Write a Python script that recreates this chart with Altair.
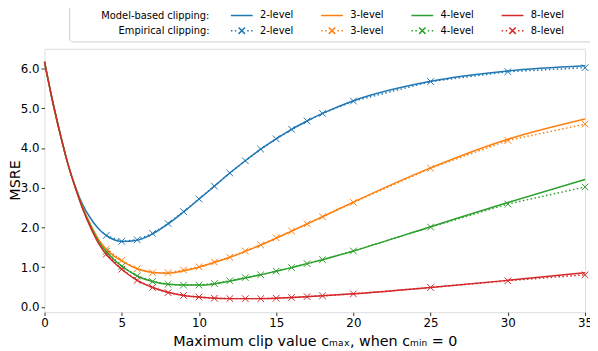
import altair as alt
import pandas as pd

FONT = "DejaVu Sans"

# ---- data ----
levels = ["2", "3", "4", "8"]
colors = ["#1f77b4", "#ff7f0e", "#2ca02c", "#d62728"]

model_x = [0, 0.5, 1, 1.5, 2, 2.5, 3, 3.5, 4, 4.5, 5, 6, 7, 8, 9, 10, 11, 12,
           13, 14, 15, 16, 17, 18, 20, 25, 30, 35]
model_2 = [6.17, 5.22, 4.38, 3.62, 3.02, 2.55, 2.22, 1.97, 1.80, 1.69, 1.65, 1.68,
           1.84, 2.09, 2.39, 2.71, 3.04, 3.37, 3.68, 3.97, 4.23, 4.47, 4.68, 4.87,
           5.19, 5.68, 5.94, 6.07]
model_3 = [6.17, 5.22, 4.38, 3.62, 3.00, 2.48, 2.06, 1.70, 1.45, 1.28, 1.16, 0.96,
           0.87, 0.85, 0.91, 1.00, 1.12, 1.25, 1.40, 1.56, 1.73, 1.91, 2.09, 2.27,
           2.64, 3.50, 4.22, 4.73]
model_4 = [6.17, 5.22, 4.38, 3.62, 3.00, 2.46, 2.02, 1.65, 1.39, 1.19, 1.03, 0.78,
           0.64, 0.57, 0.55, 0.55, 0.58, 0.65, 0.73, 0.81, 0.90, 0.99, 1.09, 1.19,
           1.41, 2.02, 2.63, 3.21]
model_8 = [6.17, 5.22, 4.38, 3.62, 3.00, 2.44, 1.98, 1.60, 1.32, 1.12, 0.95, 0.67,
           0.49, 0.37, 0.29, 0.25, 0.22, 0.21, 0.21, 0.21, 0.22, 0.24, 0.26, 0.28,
           0.33, 0.49, 0.67, 0.86]

emp_x = [4, 5, 6, 7, 8, 9, 10, 11, 12, 13, 14, 15, 16, 17, 18, 20, 25, 30, 35]
emp_2 = [1.80, 1.65, 1.69, 1.85, 2.10, 2.40, 2.72, 3.04, 3.37, 3.68, 3.97, 4.23,
         4.47, 4.68, 4.87, 5.18, 5.67, 5.92, 6.02]
emp_3 = [1.46, 1.17, 0.96, 0.86, 0.86, 0.93, 1.01, 1.13, 1.25, 1.41, 1.56, 1.74,
         1.91, 2.09, 2.27, 2.63, 3.49, 4.19, 4.60]
emp_4 = [1.40, 1.02, 0.78, 0.64, 0.57, 0.55, 0.55, 0.59, 0.66, 0.74, 0.81, 0.90,
         0.99, 1.09, 1.19, 1.41, 2.01, 2.59, 3.02]
emp_8 = [1.33, 0.95, 0.67, 0.49, 0.36, 0.29, 0.25, 0.22, 0.21, 0.21, 0.21, 0.22,
         0.24, 0.26, 0.28, 0.33, 0.49, 0.66, 0.81]

x_ticks = [0, 5, 10, 15, 20, 25, 30, 35]
y_ticks = [0, 1, 2, 3, 4, 5, 6]

# ---- tables ----
model_rows = []
for lv, ys in zip(levels, [model_2, model_3, model_4, model_8]):
    for x, y in zip(model_x, ys):
        model_rows.append({"x": x, "y": y, "series": "m" + lv})
model_df = pd.DataFrame(model_rows)

emp_rows = []
for lv, ys in zip(levels, [emp_2, emp_3, emp_4, emp_8]):
    for x, y in zip(emp_x, ys):
        emp_rows.append({"x": x, "y": y, "series": "e" + lv, "kind": "emp"})
emp_df = pd.DataFrame(emp_rows)

series_domain = ["m" + l for l in levels] + ["e" + l for l in levels]
color_range = colors + colors

LINE_SYM = "M-1.7,0L1.7,0"
DOTX_SYM = ("M-1.7,0L-1.47,0M-1.08,0L-0.85,0M0.85,0L1.08,0M1.47,0L1.7,0"
            "M-0.5,-0.5L0.5,0.5M-0.5,0.5L0.5,-0.5")
X_MARK = "M-1,-1L1,1M-1,1L1,-1"
shape_range = [LINE_SYM] * 4 + [DOTX_SYM] * 4

ZW = "\u200b"          # zero-width guard so the padding spaces are kept
NB = "\u00a0"
PAD_RIGHT = "\u2002\u2002\u2002\u2005"  # right-aligns the shorter row title
legend = alt.Legend(
    title=[ZW + NB * 9 + "Model-based clipping:",
           ZW + NB * 9 + PAD_RIGHT + "Empirical clipping:"],
    orient="none", legendX=25, legendY=-45.5,
    direction="horizontal", columns=4,
    symbolSize=169, symbolStrokeWidth=1.5, symbolType=LINE_SYM,
    labelOffset=11, columnPadding=24.5, rowPadding=2.6, padding=4,
    strokeColor="#cccccc", fillColor="white", cornerRadius=3,
    titleOrient="left", titleAlign="left", titleAnchor="start",
    titleBaseline="line-top", titleLineHeight=15.6, titlePadding=24.5,
    titleFont=FONT, titleFontSize=10, titleFontWeight="normal", titleColor="black",
    titleLimit=300,
    labelFont=FONT, labelFontSize=10, labelColor="black",
    labelExpr="substring(datum.label, 1) + '-level' + (substring(datum.label, 1) == '8' ? '"
    + NB * 8 + ZW + "' : '')",
)

color = alt.Color("series:N", scale=alt.Scale(domain=series_domain, range=color_range),
                  legend=legend)
shape = alt.Shape("series:N", scale=alt.Scale(domain=series_domain, range=shape_range),
                  legend=legend)

ax_common = dict(domain=False, grid=False, ticks=True, tickColor="black", tickSize=3.5,
                 tickWidth=0.8, labelFont=FONT, labelFontSize=12, labelColor="black",
                 labelPadding=2, labelFlush=False, titleFont=FONT, titleFontSize=14.5,
                 titleFontWeight="normal", titleColor="black")

x_enc = alt.X("x:Q", scale=alt.Scale(domain=[0, 35], nice=False, zero=False),
              axis=alt.Axis(values=x_ticks, format="d",
                            title="Maximum clip value c\u2098\u2090\u2093, when c\u2098\u1d62\u2099 = 0",
                            titleY=34, titleBaseline="alphabetic", **ax_common))
y_enc = alt.Y("y:Q", scale=alt.Scale(domain=[-0.131, 6.496], nice=False, zero=False),
              axis=alt.Axis(values=y_ticks, format=".1f", title="MSRE",
                            titleX=-29.5, titleY=133, titleAngle=-90, titleAlign="center",
                            titleBaseline="middle", **ax_common))

model_lines = alt.Chart(model_df).mark_line(strokeWidth=1.5, interpolate="monotone").encode(
    x=x_enc, y=y_enc, color=color)

emp_lines = alt.Chart(emp_df).mark_line(strokeWidth=1.5).encode(
    x=x_enc, y=y_enc, color=color,
    strokeDash=alt.StrokeDash("kind:N", scale=alt.Scale(domain=["emp"], range=[[1.5, 2.5]]),
                              legend=None))

emp_points = alt.Chart(emp_df).mark_point(shape=X_MARK, size=45, strokeWidth=1,
                                          filled=False, opacity=1).encode(
    x=x_enc, y=y_enc, color=color)

legend_shape_layer = alt.Chart(emp_df).transform_filter("false").mark_point(
    filled=False, opacity=1).encode(x=x_enc, y=y_enc, color=color, shape=shape)

chart = alt.layer(model_lines, emp_lines, emp_points, legend_shape_layer).properties(
    width=548, height=267,
    autosize=alt.AutoSizeParams(type="none"),
    padding={"left": 37, "top": 39, "right": 5, "bottom": 37},
).configure_view(stroke="#222222", strokeWidth=1).configure(font=FONT)

chart.save("out.html", embed_options={"renderer": "svg", "actions": False})
